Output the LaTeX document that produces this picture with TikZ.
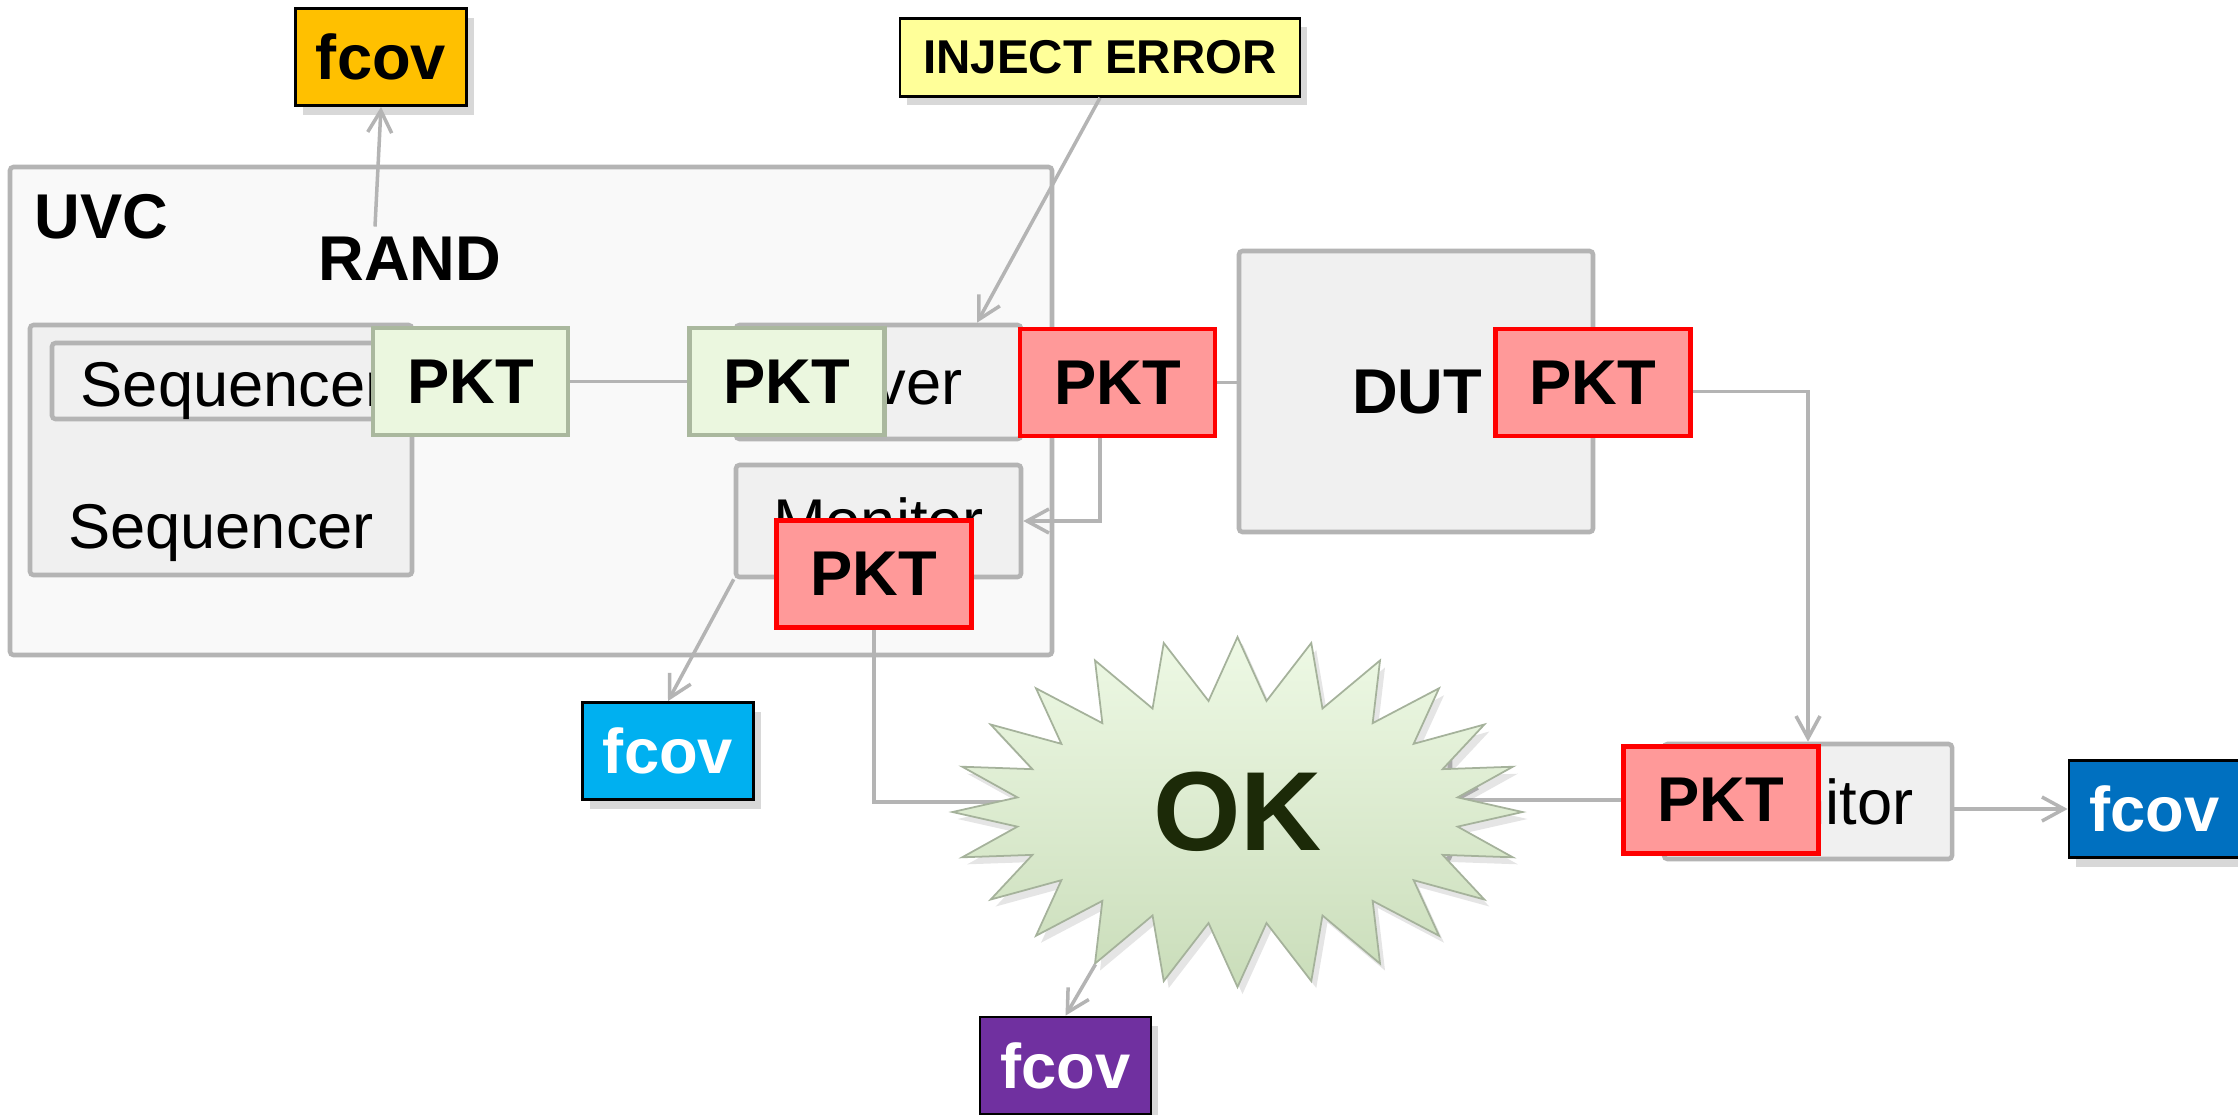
\documentclass[tikz,border=0pt]{standalone}
\usepackage{fontspec}
\setmainfont{Liberation Sans}
\usetikzlibrary{shapes.symbols,arrows.meta,positioning,calc,shadows}
\definecolor{linegray}{RGB}{180,180,180}
\definecolor{boxfill}{RGB}{240,240,240}
\definecolor{uvcfill}{RGB}{249,249,249}
\definecolor{pktgreen}{RGB}{235,247,223}
\definecolor{pktgreenline}{RGB}{170,184,158}
\definecolor{pktred}{RGB}{255,153,153}
\definecolor{covorange}{RGB}{255,192,0}
\definecolor{covcyan}{RGB}{0,176,240}
\definecolor{covblue}{RGB}{0,112,192}
\definecolor{covpurple}{RGB}{112,48,160}
\definecolor{injyellow}{RGB}{255,255,153}
\definecolor{oktop}{RGB}{238,249,229}
\definecolor{okbottom}{RGB}{202,221,186}
\definecolor{okline}{RGB}{165,178,155}
\definecolor{oktext}{RGB}{28,42,8}

\begin{document}
\begin{tikzpicture}[
    big/.style={font=\fontsize{18}{20}\selectfont\bfseries},
    plain/.style={font=\fontsize{18}{20}\selectfont},
    block/.style={draw=linegray, line width=1.3pt, fill=boxfill, rounded corners=1pt, inner sep=0pt},
    pkt/.style={big, draw=red, fill=pktred, line width=1.3pt, minimum width=1.95cm, minimum height=1.07cm, inner sep=0pt},
    pktok/.style={pkt, draw=pktgreenline, fill=pktgreen},
    cov/.style={big, text=white, draw=black, line width=0.8pt, minimum width=1.71cm, minimum height=0.97cm, inner sep=0pt,
        drop shadow={shadow xshift=0.7mm, shadow yshift=-0.9mm, opacity=0.3}},
    conn/.style={draw=linegray, line width=1pt},
    arr/.style={conn, -{Straight Barb[length=2.2mm, width=2.4mm]}}
]
    \fill[white] (0,0) rectangle (22.38,-11.14);
    \useasboundingbox (0,0) rectangle (22.38,-11.14);

    % UVC agent
    \node[block, fill=uvcfill, minimum width=10.42cm, minimum height=4.88cm] (uvc) at (5.31,-4.11) {};
    \node[big, anchor=west, inner sep=0pt] (uvclbl) at (0.34,-2.17) {UVC};
    \node[big, inner sep=1mm] (rand) at (4.10,-2.59) {RAND};

    % Sequencers
    \node[block, minimum width=3.82cm, minimum height=2.50cm] (seqo) at (2.21,-4.50) {};
    \node[plain, anchor=base, inner sep=0pt] (seqolbl) at (2.21,-5.48) {Sequencer};
    \node[block, minimum width=3.43cm, minimum height=0.76cm] (seqi) at (2.235,-3.81) {};
    \node[plain, anchor=base west, inner sep=0pt] (seqilbl) at (0.80,-4.06) {Sequencer};

    % Driver and monitor
    \node[block, plain, minimum width=2.85cm, minimum height=1.14cm] (drv) at (8.785,-3.82) {Driver};
    \node[block, plain, minimum width=2.85cm, minimum height=1.12cm] (mon1) at (8.785,-5.21) {Monitor};

    % DUT, scoreboard, second monitor
    \node[block, minimum width=3.54cm, minimum height=2.81cm] (dut) at (14.16,-3.915) {};
    \node[big, inner sep=0pt] (dutlbl) at (14.17,-3.92) {DUT};
    \node[block, minimum width=4.0cm, minimum height=1.15cm] (sb) at (12.5,-8.02) {};
    \node[block, plain, minimum width=2.88cm, minimum height=1.15cm] (mon2) at (18.08,-8.015) {Monitor};

    % Packets
    \node[pktok] (pkg1) at (4.705,-3.815) {PKT};
    \node[pktok] (pkg2) at (7.87,-3.815) {PKT};
    \node[pkt] (pkr1) at (11.175,-3.825) {PKT};
    \node[pkt] (pkr2) at (15.93,-3.825) {PKT};
    \node[pkt] (pkr3) at (8.74,-5.74) {PKT};
    \node[pkt] (pkr4) at (17.21,-8.00) {PKT};

    % Coverage
    \node[cov, fill=covorange, text=black] (fcovO) at (3.81,-0.57) {fcov};
    \node[cov, fill=covcyan] (fcovC) at (6.68,-7.51) {fcov};
    \node[cov, fill=covblue] (fcovB) at (21.545,-8.09) {fcov};
    \node[cov, fill=covpurple] (fcovP) at (10.655,-10.655) {fcov};
    \node[cov, fill=injyellow, text=black, font=\fontsize{13.5}{15}\selectfont\bfseries,
        minimum width=4.0cm, minimum height=0.78cm] (inject) at (11.0,-0.574) {INJECT ERROR};

    % connectors under the burst
    \draw[arr] (pkr3.south) |- (sb.west);
    \draw[arr] (pkr4.west) -- (pkr4.west -| sb.east);

    \node[starburst, starburst points=24, random starburst=0, starburst point height=0.63cm,
        minimum width=5.7cm, minimum height=3.5cm, inner sep=0pt,
        top color=oktop, bottom color=okbottom, draw=okline, line width=0.5pt,
        drop shadow={shadow xshift=0.5mm, shadow yshift=-0.7mm, opacity=0.2},
        text=oktext, font=\fontsize{32}{34}\selectfont\bfseries] (ok) at (12.375,-8.12) {OK};

    % connectors
    \draw[arr] ([xshift=-3.5mm]rand.north) -- (fcovO.south);
    \draw[arr] (inject.south) -- ([xshift=9.85mm]drv.north);
    \draw[conn] (pkg1.east) -- (pkg2.west);
    \draw[conn] (pkr1.east) -- (pkr1.east -| dut.west);
    \draw[arr] ([yshift=-0.9mm]pkr2.east) -| (mon2.north);
    \draw[arr] ([xshift=-1.75mm]pkr1.south) |- (mon1.east);
    \draw[arr] (mon1.south west) -- (fcovC.north);
    \draw[arr] (ok.227) -- (fcovP.north);
    \draw[arr] (mon2.east |- fcovB.west) -- (fcovB.west);
\end{tikzpicture}
\end{document}
